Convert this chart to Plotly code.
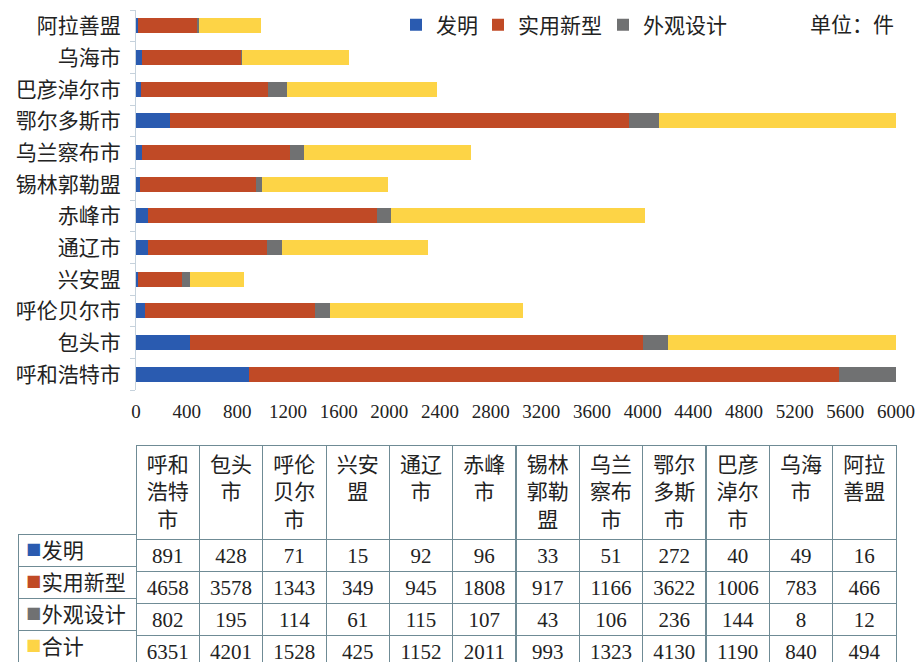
import plotly.graph_objects as go

W, H = 918, 662

cities = ["呼和浩特市", "包头市", "呼伦贝尔市", "兴安盟", "通辽市", "赤峰市",
          "锡林郭勒盟", "乌兰察布市", "鄂尔多斯市", "巴彦淖尔市", "乌海市", "阿拉善盟"]
invention = [891, 428, 71, 15, 92, 96, 33, 51, 272, 40, 49, 16]
utility = [4658, 3578, 1343, 349, 945, 1808, 917, 1166, 3622, 1006, 783, 466]
design = [802, 195, 114, 61, 115, 107, 43, 106, 236, 144, 8, 12]
total = [6351, 4201, 1528, 425, 1152, 2011, 993, 1323, 4130, 1190, 840, 494]

series_names = ["发明", "实用新型", "外观设计", "合计"]
colors = ["#2a5bb0", "#c04a26", "#707172", "#fdd446"]
x_ticks = list(range(0, 6001, 400))

FONT = "Liberation Serif, Noto Sans CJK SC, serif"
TXT = "#222222"
BORDER = "#6f8b95"

def px(x):
    return x / W

def py(y):
    return 1 - y / H

fig = go.Figure()
legend_widths = [37, 80, 80, 0]
for name, vals, col, show, lw in zip(series_names, [invention, utility, design, total], colors,
                                     [True, True, True, False], legend_widths):
    fig.add_trace(go.Bar(y=cities, x=vals, name=name, orientation="h",
                         marker=dict(color=col, line=dict(width=0)),
                         showlegend=show, legendwidth=lw if lw else None,
                         hoverinfo="x+name"))

# table header: two characters per line, short lines centred with an en space
def wrap2(s):
    lines = [s[i:i + 2] for i in range(0, len(s), 2)]
    return "<br>".join(l if len(l) == 2 else "\u2002" + l for l in lines)

header_vals = [wrap2(c) for c in cities]
cell_vals = [[str(a), str(b), str(c), str(d)] for a, b, c, d in zip(invention, utility, design, total)]

fig.add_trace(go.Table(
    domain=dict(x=[px(136), px(896)], y=[0, py(445)]),
    columnwidth=[1] * len(cities),
    header=dict(values=header_vals, height=89, align="center",
                fill_color="white", line=dict(color=BORDER, width=1),
                font=dict(family=FONT, size=21, color=TXT)),
    cells=dict(values=cell_vals, height=32, align="center",
               fill_color="white", line=dict(color=BORDER, width=1),
               font=dict(family=FONT, size=21, color=TXT)),
))

# row-label column: labels (with room for the colour key) ...
labels = ["\u2002\u2005" + n for n in series_names]
fig.add_trace(go.Table(
    domain=dict(x=[px(18), px(136)], y=[0, py(534)]),
    header=dict(values=[labels[0]], height=32, align="left",
                fill_color="white", line=dict(color=BORDER, width=1),
                font=dict(family=FONT, size=21, color=TXT)),
    cells=dict(values=[labels[1:]], height=32, align="left",
               fill_color="white", line=dict(color=BORDER, width=1),
               font=dict(family=FONT, size=21, color=TXT)),
))
# ... and the coloured key squares overlaid on the same cells
fig.add_trace(go.Table(
    domain=dict(x=[px(18), px(136)], y=[0, py(534)]),
    header=dict(values=["■"], height=32, align="left",
                fill_color="rgba(0,0,0,0)", line=dict(color="rgba(0,0,0,0)", width=0),
                font=dict(family="DejaVu Sans", size=16, color=colors[0])),
    cells=dict(values=[["■"] * 3], height=32, align="left",
               fill_color="rgba(0,0,0,0)", line=dict(color="rgba(0,0,0,0)", width=0),
               font=dict(family="DejaVu Sans", size=16, color=[colors[1:]])),
))

fig.add_annotation(text="单位：件", x=px(852), y=py(25), xref="paper", yref="paper",
                   xanchor="center", yanchor="middle",
                   showarrow=False, font=dict(family=FONT, size=21, color=TXT))

fig.update_layout(
    width=W, height=H,
    margin=dict(l=0, r=0, t=0, b=0, autoexpand=False),
    paper_bgcolor="white", plot_bgcolor="white",
    barmode="stack", bargap=0.52,
    font=dict(family=FONT, color=TXT),
    showlegend=True,
    legend=dict(orientation="h", x=px(396), y=py(25), xanchor="left", yanchor="middle",
                font=dict(family=FONT, size=21, color=TXT), bgcolor="rgba(0,0,0,0)",
                traceorder="normal"),
    xaxis=dict(domain=[px(136), px(896)], range=[0, 6000], tickvals=x_ticks,
               showgrid=False, zeroline=False, showline=False, ticks="",
               tickfont=dict(family=FONT, size=19, color=TXT), ticklabelstandoff=8),
    yaxis=dict(domain=[py(390), py(10)], type="category", showgrid=False, zeroline=False,
               showline=True, linecolor="#c6d2dc", linewidth=1,
               ticks="outside", ticklen=5, tickcolor="#c6d2dc", tickson="boundaries",
               tickfont=dict(family=FONT, size=21, color=TXT), ticklabelstandoff=10),
)

fig.write_html("out.html", config={"displayModeBar": False},
               post_script="document.body.style.margin='0';document.body.style.padding='0';")
